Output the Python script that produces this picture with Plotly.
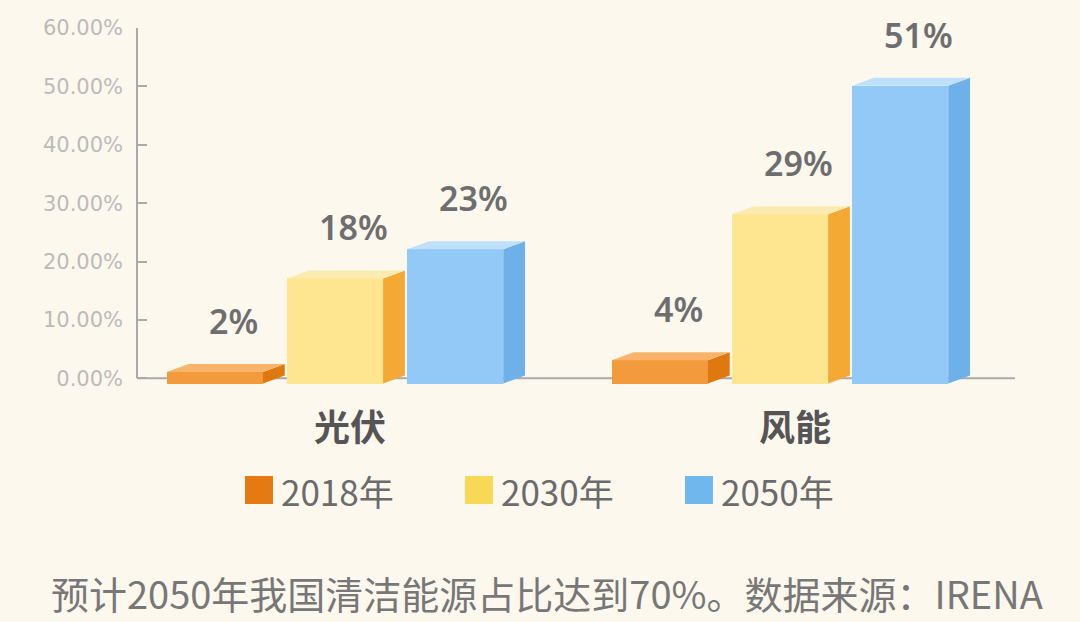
import plotly.graph_objects as go

# ---- data ----
categories = ["光伏", "风能"]
series_names = ["2018年", "2030年", "2050年"]
values_2018 = [2, 4]
values_2030 = [18, 29]
values_2050 = [23, 51]
value_labels_2018 = ["2%", "4%"]
value_labels_2030 = ["18%", "29%"]
value_labels_2050 = ["23%", "51%"]
y_ticks = [0, 10, 20, 30, 40, 50, 60]
footnote = "预计2050年我国清洁能源占比达到70%。数据来源：IRENA"

# ---- style ----
BG = "#FCF8EE"
front_colors = ["#F39B3C", "#FDE68F", "#93C9F6"]
side_colors = ["#E07810", "#F4A934", "#6DB1E8"]
top_colors = ["#F7B46A", "#FCEBB0", "#BFE0FA"]
legend_colors = ["#E57A12", "#F7D955", "#6FB7EC"]
LABEL_COLOR = "#6E6E6E"
AXIS_COLOR = "#AAAAAA"

W, H = 1080, 622
ML, MR, MT, MB = 137, 65, 28, 232
PW, PH = W - ML - MR, H - MT - MB


def px_x(px):
    return (px - ML) / PW


def px_y(py):
    return (H - MB - py) / PH


offsets = [-0.27, 0.0, 0.27]
bar_w = 0.216
dx = 0.049   # depth in x units
dy = 1.37    # depth in y units
base = -0.9

all_values = [values_2018, values_2030, values_2050]
all_labels = [value_labels_2018, value_labels_2030, value_labels_2050]

fig = go.Figure()
annotations = []

for s in range(3):
    for g in range(len(categories)):
        v = all_values[s][g]
        xc = g + offsets[s]
        xl, xr = xc - bar_w / 2, xc + bar_w / 2
        top = base + v
        fig.add_trace(go.Bar(
            x=[xc], y=[v], base=[base], width=[bar_w],
            marker=dict(color=front_colors[s], line=dict(width=0)),
            showlegend=False, hoverinfo="skip"))
        fig.add_trace(go.Scatter(
            x=[xr, xr + dx, xr + dx, xr, xr],
            y=[base, base + dy, top + dy, top, base],
            fill="toself", fillcolor=side_colors[s], mode="lines",
            line=dict(width=0, color=side_colors[s]),
            showlegend=False, hoverinfo="skip"))
        fig.add_trace(go.Scatter(
            x=[xl, xl + dx, xr + dx, xr, xl],
            y=[top, top + dy, top + dy, top, top],
            fill="toself", fillcolor=top_colors[s], mode="lines",
            line=dict(width=0, color=top_colors[s]),
            showlegend=False, hoverinfo="skip"))
        annotations.append(dict(
            x=xc + 0.042, y=v, xref="x", yref="y",
            text=all_labels[s][g], showarrow=False,
            yanchor="middle", yshift=46,
            font=dict(family="Noto Sans, Noto Sans CJK SC", size=34,
                      color=LABEL_COLOR, weight=600)))

# category labels
for g, c in enumerate(categories):
    annotations.append(dict(
        x=g + 0.034, y=0, xref="x", yref="y", text=c, showarrow=False,
        yanchor="middle", yshift=-47,
        font=dict(family="Noto Sans CJK SC", size=36, color="#555555",
                  weight=700)))

# legend (manual)
leg_x = [245, 465, 685]
shapes = []
for s in range(3):
    annotations.append(dict(
        x=px_x(leg_x[s] + 34), y=px_y(490), xref="paper", yref="paper",
        text=series_names[s], showarrow=False, xanchor="left",
        yanchor="middle",
        font=dict(family="Noto Sans CJK SC", size=35, color="#6B6B6B")))
    shapes.append(dict(
        type="rect", xref="paper", yref="paper",
        x0=px_x(leg_x[s]), x1=px_x(leg_x[s] + 28),
        y0=px_y(504), y1=px_y(476),
        fillcolor=legend_colors[s], line=dict(width=0), layer="above"))

# axis lines
shapes.append(dict(type="line", xref="paper", yref="y", x0=0, x1=0,
                   y0=0, y1=60, line=dict(color=AXIS_COLOR, width=2)))
shapes.append(dict(type="line", xref="paper", yref="y", x0=0, x1=1,
                   y0=0, y1=0, line=dict(color=AXIS_COLOR, width=2),
                   layer="below"))

# footnote
annotations.append(dict(
    x=px_x(547), y=px_y(592), xref="paper", yref="paper", text=footnote,
    showarrow=False, xanchor="center", yanchor="middle",
    font=dict(family="Noto Sans CJK SC", size=38, color="#777777")))

fig.update_layout(
    width=W, height=H,
    paper_bgcolor=BG, plot_bgcolor=BG,
    margin=dict(l=ML, r=MR, t=MT, b=MB),
    barmode="overlay", bargap=0,
    showlegend=False,
    xaxis=dict(range=[-0.445, 1.528], showgrid=False, zeroline=False,
               showticklabels=False, showline=False, ticks=""),
    yaxis=dict(range=[-2, 60], tickvals=y_ticks,
               ticktext=[f"{t:.2f}%" for t in y_ticks],
               showgrid=False, zeroline=False, showline=False,
               ticks="inside", ticklen=10, tickwidth=2, tickcolor=AXIS_COLOR,
               ticklabelstandoff=13,
               tickfont=dict(family="DejaVu Sans", size=21,
                             color="#BBBBBB")),
    annotations=annotations, shapes=shapes,
)

fig.write_html("out.html")
